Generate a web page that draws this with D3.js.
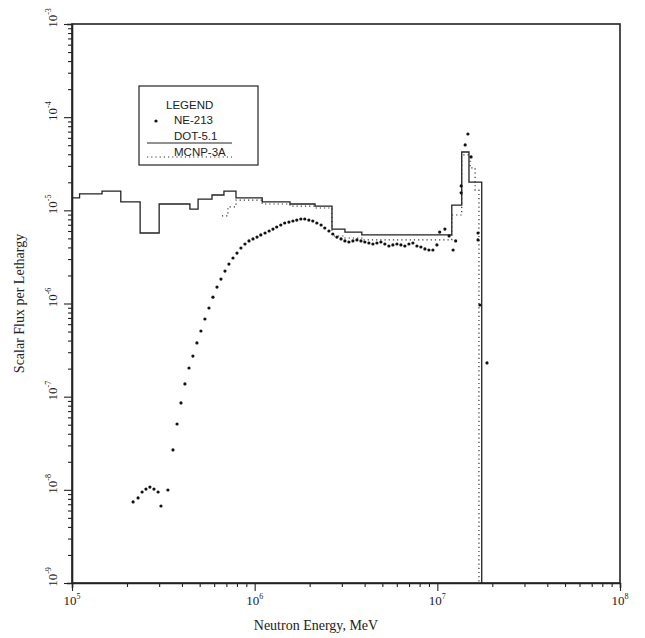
<!DOCTYPE html>
<html><head><meta charset="utf-8">
<script src="https://cdn.jsdelivr.net/npm/d3@7"></script>
<style>body{margin:0;background:#fff}svg{display:block}</style>
</head><body>
<svg id="c" width="645" height="638"></svg>
<script>
// DOT-5.1 histogram: bin edges (eV) and flux levels
const dotEdges=[1.0e5,1.1e5,1.46e5,1.85e5,2.36e5,3.0e5,4.42e5,4.90e5,5.84e5,6.79e5,7.90e5,1.10e6,1.56e6,2.14e6,2.65e6,3.12e6,3.86e6,1.20e7,1.36e7,1.49e7,1.75e7];
const dotLevels=[1.36e-5,1.50e-5,1.61e-5,1.23e-5,5.71e-6,1.17e-5,1.03e-5,1.32e-5,1.46e-5,1.61e-5,1.36e-5,1.23e-5,1.17e-5,1.11e-5,6.30e-6,5.85e-6,5.44e-6,1.14e-5,4.23e-5,2.01e-5];
// MCNP-3A histogram
const mcnpEdges=[6.62e5,7.14e5,7.90e5,1.10e6,1.56e6,2.14e6,2.65e6,3.12e6,3.86e6,1.20e7,1.36e7,1.51e7,1.61e7,1.69e7];
const mcnpLevels=[8.70e-6,1.09e-5,1.29e-5,1.17e-5,1.11e-5,1.06e-5,5.30e-6,5.05e-6,4.81e-6,8.91e-6,3.93e-5,2.85e-5,1.65e-5];
// NE-213 measured points
const neE=[2.16e5,2.30e5,2.42e5,2.54e5,2.67e5,2.81e5,2.96e5,3.07e5,3.35e5,3.57e5,3.76e5,3.95e5,4.15e5,4.37e5,4.59e5,4.83e5,5.08e5,5.34e5,5.62e5,5.91e5,6.22e5,6.54e5,6.88e5,7.23e5,7.61e5,8.00e5,8.41e5,8.85e5,9.31e5,9.79e5,1.03e6,1.08e6,1.14e6,1.20e6,1.26e6,1.32e6,1.39e6,1.46e6,1.54e6,1.62e6,1.70e6,1.79e6,1.88e6,1.98e6,2.08e6,2.19e6,2.31e6,2.42e6,2.55e6,2.68e6,2.82e6,2.97e6,3.12e6,3.28e6,3.45e6,3.63e6,3.82e6,4.01e6,4.22e6,4.44e6,4.67e6,4.91e6,5.16e6,5.43e6,5.71e6,6.01e6,6.32e6,6.64e6,6.99e6,7.35e6,7.73e6,8.13e6,8.55e6,8.99e6,9.46e6,9.95e6,1.03e7,1.10e7,1.16e7,1.22e7,1.26e7,1.35e7,1.35e7,1.42e7,1.47e7,1.53e7,1.67e7,1.67e7,1.71e7,1.87e7];
const neF=[7.41e-9,8.18e-9,9.48e-9,1.02e-8,1.07e-8,1.02e-8,9.48e-9,6.71e-9,9.96e-9,2.68e-8,5.09e-8,8.56e-8,1.37e-7,2.03e-7,2.73e-7,3.77e-7,5.07e-7,6.82e-7,8.95e-7,1.17e-6,1.50e-6,1.83e-6,2.23e-6,2.65e-6,3.08e-6,3.48e-6,3.94e-6,4.35e-6,4.69e-6,4.93e-6,5.17e-6,5.44e-6,5.71e-6,6.00e-6,6.30e-6,6.62e-6,6.96e-6,7.31e-6,7.49e-6,7.68e-6,7.87e-6,8.07e-6,8.07e-6,7.87e-6,7.68e-6,7.31e-6,6.96e-6,6.46e-6,6.00e-6,5.57e-6,5.17e-6,4.93e-6,4.69e-6,4.57e-6,4.69e-6,4.81e-6,4.69e-6,4.57e-6,4.46e-6,4.35e-6,4.46e-6,4.57e-6,4.35e-6,4.14e-6,4.25e-6,4.35e-6,4.25e-6,4.14e-6,4.35e-6,4.46e-6,4.14e-6,4.04e-6,3.85e-6,3.75e-6,3.75e-6,4.25e-6,5.85e-6,6.30e-6,5.30e-6,3.75e-6,4.69e-6,1.83e-5,1.54e-5,5.03e-5,6.60e-5,3.74e-5,5.71e-6,4.81e-6,9.64e-7,2.30e-7];
// axis ticks
const xExps=[5,6,7,8];
const yExps=[-9,-8,-7,-6,-5,-4,-3];
const legendItems=["NE-213","DOT-5.1","MCNP-3A"];

const svg=d3.select("#c");
const L=72,R=620,T=24,B=583;
const x=d3.scaleLog().domain([1e5,1e8]).range([L,R]);
const y=d3.scaleLog().domain([1e-9,1e-3]).range([B,T]);
const serif="'Liberation Serif','DejaVu Serif',serif";

function allTicks(exps){const t=[];for(let i=0;i<exps.length;i++){const b=Math.pow(10,exps[i]);if(i<exps.length-1){for(let m=1;m<10;m++)t.push(m*b);}else t.push(b);}return t;}
const isMajor=v=>Math.abs(Math.log10(v)-Math.round(Math.log10(v)))<1e-6;

// frame
svg.append("rect").attr("x",L).attr("y",T).attr("width",R-L).attr("height",B-T)
  .attr("fill","none").attr("stroke","#222").attr("stroke-width",1.6);

// axes
const xAxis=svg.append("g").attr("transform",`translate(0,${B})`)
  .call(d3.axisBottom(x).tickValues(allTicks(xExps)).tickFormat("").tickSizeOuter(0).tickSize(5));
const yAxis=svg.append("g").attr("transform",`translate(${L},0)`)
  .call(d3.axisLeft(y).tickValues(allTicks(yExps)).tickFormat("").tickSizeOuter(0).tickSize(5));
[xAxis,yAxis].forEach(g=>{g.select(".domain").attr("stroke","#222").attr("stroke-width",1.6);
  g.selectAll(".tick line").attr("stroke","#222").attr("stroke-width",1.1);});
xAxis.selectAll(".tick line").attr("y2",d=>isMajor(d)?8:4);
yAxis.selectAll(".tick line").attr("x2",d=>isMajor(d)?-8:-4);

// x tick labels
xExps.forEach(e=>{
  const t=svg.append("text").attr("x",x(Math.pow(10,e))).attr("y",B+22)
    .attr("text-anchor","middle").attr("font-family",serif).attr("font-size",13).attr("fill","#222");
  t.append("tspan").text("10");
  t.append("tspan").attr("dy",-6).attr("font-size",8).text(e);
});
// y tick labels (rotated)
yExps.forEach(e=>{
  const yy=y(Math.pow(10,e));
  const t=svg.append("text").attr("transform",`translate(${L-15},${yy-6}) rotate(-90)`)
    .attr("text-anchor","middle").attr("font-family",serif).attr("font-size",13).attr("fill","#222");
  t.append("tspan").text("10");
  t.append("tspan").attr("dy",-6).attr("font-size",8).text(e);
});

// axis titles
svg.append("text").attr("x",316).attr("y",630).attr("text-anchor","middle")
  .attr("font-family",serif).attr("font-size",14).attr("fill","#222").text("Neutron Energy, MeV");
svg.append("text").attr("transform",`translate(24,${(T+B)/2}) rotate(-90)`).attr("text-anchor","middle")
  .attr("font-family",serif).attr("font-size",14).attr("fill","#222").text("Scalar Flux per Lethargy");

// histograms
function histPts(edges,levels){
  const p=levels.map((v,i)=>[edges[i],v]);
  p.push([edges[edges.length-1],levels[levels.length-1]]);
  p.push([edges[edges.length-1],1e-9]);
  return p;
}
const line=d3.line().x(d=>x(d[0])).y(d=>y(d[1])).curve(d3.curveStepAfter);
svg.append("path").attr("d",line(histPts(dotEdges,dotLevels)))
  .attr("fill","none").attr("stroke","#222").attr("stroke-width",1.3);
svg.append("path").attr("d",line(histPts(mcnpEdges,mcnpLevels)))
  .attr("fill","none").attr("stroke","#333").attr("stroke-width",1.2).attr("stroke-dasharray","1.2,3");

// NE-213 points
svg.append("g").selectAll("circle").data(neE.map((e,i)=>[e,neF[i]])).join("circle")
  .attr("cx",d=>x(d[0])).attr("cy",d=>y(d[1])).attr("r",1.6).attr("fill","#111");

// legend
const lg=svg.append("g");
lg.append("rect").attr("x",139).attr("y",86).attr("width",119).attr("height",79)
  .attr("fill","none").attr("stroke","#222").attr("stroke-width",1.2);
const sans="'Liberation Sans','DejaVu Sans',sans-serif";
lg.append("text").attr("x",166).attr("y",109).attr("font-family",sans).attr("font-size",11.5).attr("fill","#222").text("LEGEND");
const ly=[124,140,156];
legendItems.forEach((s,i)=>{
  lg.append("text").attr("x",174).attr("y",ly[i]).attr("font-family",sans).attr("font-size",11.5).attr("fill","#222").text(s);
});
lg.append("circle").attr("cx",156).attr("cy",121).attr("r",1.6).attr("fill","#111");
lg.append("line").attr("x1",147).attr("x2",232).attr("y1",143).attr("y2",143).attr("stroke","#222").attr("stroke-width",1.2);
lg.append("line").attr("x1",147).attr("x2",232).attr("y1",157).attr("y2",157).attr("stroke","#333").attr("stroke-width",1.2).attr("stroke-dasharray","1.2,3");
</script>
</body></html>
